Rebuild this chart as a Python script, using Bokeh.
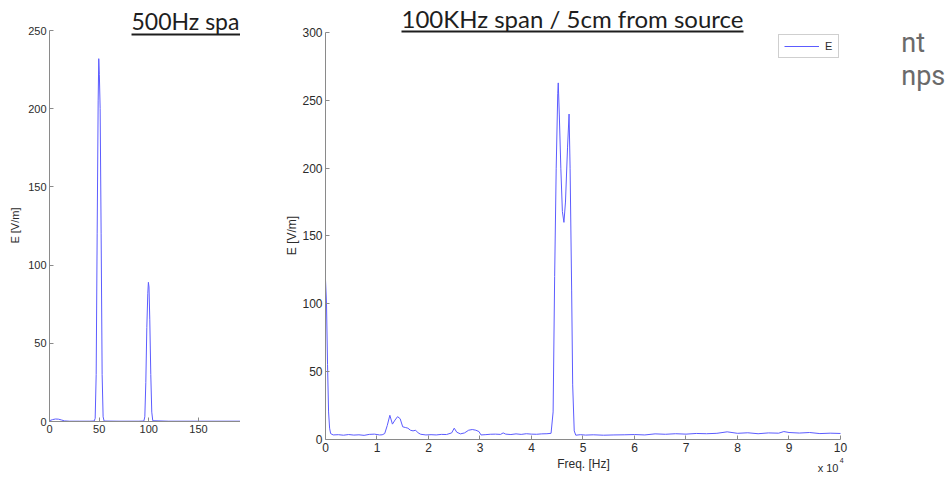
import math
from bokeh.plotting import figure
from bokeh.models import Label, Legend, LegendItem, FixedTicker, Range1d
from bokeh.layouts import row
from bokeh.embed import file_html
from bokeh.resources import INLINE

# ---------------- data ----------------
# left panel: 500 Hz span (x in Hz)
left_freq = [0, 3, 6, 9, 12, 15, 20, 30, 40, 45, 46, 47, 48, 49, 49.6, 50.2, 51, 52, 53, 54, 55,
             70, 90, 95, 96, 97, 98, 99, 99.6, 100.2, 101, 102, 103, 104, 120, 150, 192.3]
left_e = [0.5, 1.2, 1.6, 1.5, 1.0, 0.4, 0.2, 0.2, 0.2, 0.3, 2, 30, 120, 205, 232, 222, 200, 120, 30, 3, 0.3,
          0.2, 0.2, 0.3, 3, 25, 60, 82, 89, 86, 65, 30, 6, 0.5, 0.2, 0.2, 0.2]
left_xticks = [0, 50, 100, 150, 200]
left_yticks = [0, 50, 100, 150, 200, 250]

# right panel: 100 kHz span (x in units of 10^4 Hz)
right_freq = [0.00, 0.02, 0.04, 0.06, 0.08, 0.10, 0.15, 0.25, 0.35, 0.45, 0.55, 0.65, 0.75, 0.85, 0.95,
              1.00, 1.05, 1.10, 1.15, 1.20, 1.25, 1.30, 1.35, 1.40, 1.45, 1.50, 1.55, 1.60, 1.65, 1.70,
              1.75, 1.80, 1.85, 1.95, 2.05, 2.15, 2.25, 2.35, 2.45, 2.50, 2.55, 2.62, 2.70, 2.78, 2.85,
              2.92, 2.98, 3.02, 3.10, 3.20, 3.30, 3.40, 3.45, 3.50, 3.60, 3.70, 3.80, 3.90, 4.00, 4.10,
              4.20, 4.30, 4.38, 4.42, 4.45, 4.48, 4.51, 4.52, 4.54, 4.57, 4.60, 4.63, 4.66, 4.70, 4.73,
              4.75, 4.78, 4.80, 4.83, 4.86, 4.95, 5.05, 5.20, 5.40, 5.60, 5.80, 6.00, 6.20, 6.40, 6.60,
              6.80, 7.00, 7.20, 7.40, 7.60, 7.80, 8.00, 8.20, 8.40, 8.60, 8.80, 8.90, 9.00, 9.20, 9.40,
              9.60, 9.80, 10.00]
right_e = [118, 100, 55, 20, 8, 4, 3, 3.2, 2.8, 3.3, 2.9, 3.1, 2.7, 3.4, 3.6,
           3.3, 3.0, 3.1, 4, 10, 17.5, 11, 14, 16.5, 15, 9, 8.5, 8, 6.5, 6.0,
           6.5, 4.5, 3.5, 3.0, 3.2, 3.0, 3.4, 3.3, 4.5, 8, 5, 3.8, 4.5, 6.5, 7.0,
           6.5, 5.5, 3.0, 3.2, 3.5, 3.6, 3.4, 4.5, 3.6, 3.3, 3.8, 3.4, 3.9, 3.6, 3.5,
           3.8, 3.9, 4.2, 20, 120, 200, 255, 263, 240, 200, 168, 160, 175, 215, 240,
           200, 110, 40, 6, 2.8, 3.2, 2.9, 3.1, 2.8, 3.0, 3.1, 3.3, 3.0, 3.8, 3.5,
           3.9, 3.6, 4.1, 3.9, 4.2, 5.3, 4.2, 4.6, 3.9, 4.5, 4.3, 5.5, 4.8, 4.4, 4.8,
           4.0, 4.3, 4.1]
right_xticks = [0, 1, 2, 3, 4, 5, 6, 7, 8, 9, 10]
right_yticks = [0, 50, 100, 150, 200, 250, 300]

LINE = "#5c5cff"
AX = "#8a8a8a"
TXT = "#2b2b2b"
TITLE_C = "#1e1e1e"


def style_axes(p, fs, xb, yb):
    p.grid.visible = False
    p.outline_line_color = None
    p.background_fill_color = "white"
    p.border_fill_color = "white"
    p.xaxis.fixed_location = 0
    p.yaxis.fixed_location = 0
    p.xaxis.bounds = xb
    p.yaxis.bounds = yb
    for ax in (p.xaxis[0], p.yaxis[0]):
        ax.axis_line_color = AX
        ax.major_tick_line_color = AX
        ax.major_tick_in = 4
        ax.major_tick_out = 0
        ax.minor_tick_line_color = None
        ax.major_label_text_font = "Liberation Sans"
        ax.major_label_text_font_size = fs
        ax.major_label_text_color = TXT
        ax.major_label_standoff = 3


def text(p, x, y, s, size, font="Liberation Sans", color=TXT, align="left",
         baseline="alphabetic", angle=0.0):
    p.add_layout(Label(x=x, y=y, text=s, text_font=font, text_font_size=size,
                       text_color=color, text_align=align, text_baseline=baseline,
                       angle=angle))


# ---------------- left panel (canvas x 0..240) ----------------
pL = figure(width=240, height=477, x_range=Range1d(-49.35, 192.35), y_range=Range1d(-35.8, 269.2),
            output_backend="svg", toolbar_location=None,
            min_border_left=0, min_border_right=0, min_border_top=0, min_border_bottom=0)
pL.line(left_freq, left_e, color=LINE, line_width=1)
style_axes(pL, "11px", (0, 192.35), (0, 250))
pL.xaxis.ticker = FixedTicker(ticks=left_xticks)
pL.yaxis.ticker = FixedTicker(ticks=left_yticks)
text(pL, -35.2, 125.3, "E [V/m]", "11px", align="center", baseline="middle", angle=math.pi / 2)

L_TX, L_TY, L_UY, L_UX1 = 82.6, 255.8, 247.4, 192.35
text(pL, L_TX, L_TY, "500Hz spa", "23px", font="Lato", color=TITLE_C)
pL.segment(x0=[L_TX], y0=[L_UY], x1=[L_UX1], y1=[L_UY], line_color=TITLE_C, line_width=2)

# ---------------- right panel (canvas x 240..952) ----------------
pR = figure(width=712, height=477, x_range=Range1d(-1.650, 12.175), y_range=Range1d(-28.43, 323.86),
            output_backend="svg", toolbar_location=None,
            min_border_left=0, min_border_right=0, min_border_top=0, min_border_bottom=0)
r = pR.line(right_freq, right_e, color=LINE, line_width=1)
style_axes(pR, "12px", (0, 10), (0, 300))
pR.xaxis.ticker = FixedTicker(ticks=right_xticks)
pR.yaxis.ticker = FixedTicker(ticks=right_yticks)
pR.xaxis.major_label_standoff = 4
text(pR, -0.641, 150.3, "E [V/m]", "12px", align="center", baseline="middle", angle=math.pi / 2)
text(pR, 5.01, -18.1, "Freq. [Hz]", "12px", align="center")
text(pR, 9.96, -21.3, "x 10", "11px", align="right")
text(pR, 9.985, -15.9, "4", "7px")

R_TX, R_TY, R_UY, R_UX1 = 1.476, 310.8, 300.96, 8.117
text(pR, R_TX, R_TY, "100KHz span / 5cm from source", "24px", font="Lato", color=TITLE_C)
pR.segment(x0=[R_TX], y0=[R_UY], x1=[R_UX1], y1=[R_UY], line_color=TITLE_C, line_width=2)

legend = Legend(items=[LegendItem(label="E", renderers=[r])], location=(538, 419),
                border_line_color="#a0a0a0", border_line_width=1, background_fill_color="white",
                background_fill_alpha=1, label_text_font="Liberation Sans",
                label_text_font_size="11px", label_text_color=TXT, glyph_width=35,
                glyph_height=12, label_height=12, label_width=8, padding=5, label_standoff=6,
                margin=0, spacing=0)
pR.add_layout(legend)

# slide text partly hidden behind the figure
text(pR, 11.18, 292.8, "nt", "27px", font="Roboto", color="#6a6a6a")
text(pR, 11.18, 268.0, "nps", "27px", font="Roboto", color="#6a6a6a")

layout = row(pL, pR, spacing=0)
open("out.html", "w").write(file_html(layout, INLINE))
